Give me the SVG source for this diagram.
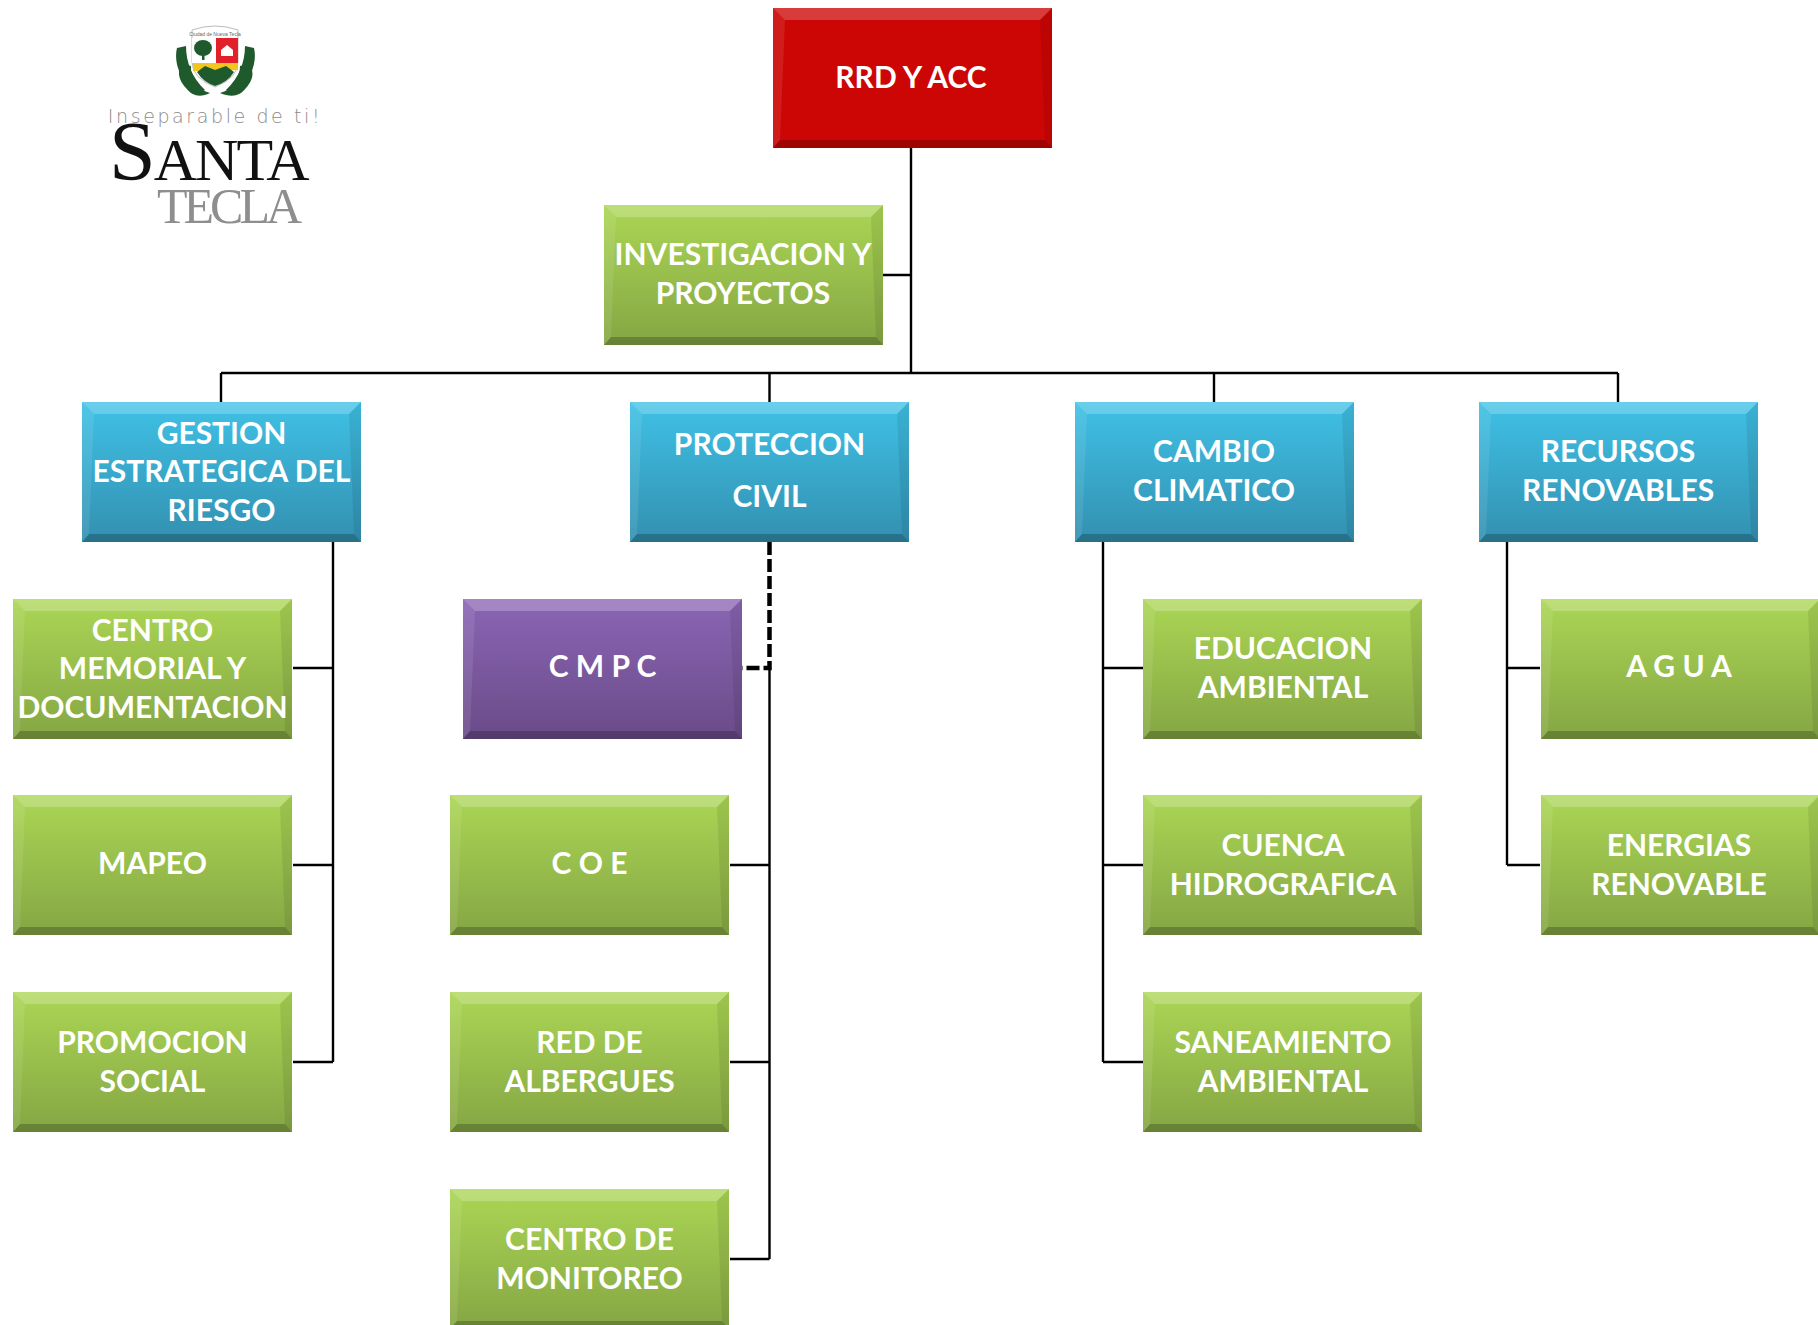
<svg xmlns="http://www.w3.org/2000/svg" width="1818" height="1325" viewBox="0 0 1818 1325">
<style>
text.t{font-family:"Lato","Carlito","Liberation Sans",sans-serif;font-weight:700;font-size:30px;fill:#fff;text-anchor:middle}
.c{fill:none;stroke:#000;stroke-width:2.4}
.d{fill:none;stroke:#000;stroke-width:4.5;stroke-dasharray:13 4}
.hi{fill:#fff;opacity:.22}
.lo{fill:#000;opacity:.22}
.sd{fill:#000;opacity:.08}
.ln{fill:#fff;opacity:.09}
</style>
<defs>
<linearGradient id="gg" x1="0" y1="0" x2="0" y2="1"><stop offset="0" stop-color="#abd654"/><stop offset="1" stop-color="#85a644"/></linearGradient>
<linearGradient id="gb" x1="0" y1="0" x2="0" y2="1"><stop offset="0" stop-color="#3fc1e6"/><stop offset="1" stop-color="#3390b0"/></linearGradient>
<linearGradient id="gp" x1="0" y1="0" x2="0" y2="1"><stop offset="0" stop-color="#8b65b4"/><stop offset="1" stop-color="#6a4b88"/></linearGradient>
<g id="bev">
<polygon class="hi" points="0,0 279,0 267,12 12,12"/>
<polygon class="lo" points="0,140 279,140 272,132 7,132"/>
<polygon class="sd" points="279,0 279,140 272,132 267,12"/>
<polygon class="ln" points="0,0 0,140 7,132 12,12"/>
</g>
</defs>
<rect width="1818" height="1325" fill="#fff"/>
<g id="connectors">
<path class="c" d="M911 148V373M883 275H911M221 373H1618M221 373V402M769.5 373V402M1214 373V402M1618 373V402"/>
<path class="c" d="M333 542V1062M293 668H333M293 865H333M293 1062H333"/>
<path class="c" d="M769.5 668V1259M730 865H769.5M730 1062H769.5M730 1259H769.5"/>
<path class="d" d="M769.5 542V668H742"/>
<path class="c" d="M1103 542V1062M1103 668H1143M1103 865H1143M1103 1062H1143"/>
<path class="c" d="M1507 542V865M1507 668H1540M1507 865H1540"/>
</g>
<g id="logo">
<path d="M191 66C176 62 176 78 186 88C192 96 200 98 210 93C198 90 190 80 191 66Z" fill="#1f5a2c"/>
<path d="M240 66C255 62 256 78 246 88C240 96 232 98 220 93C232 90 240 80 240 66Z" fill="#1f5a2c"/>
<path d="M177 48C174 60 178 80 198 94L205 90C192 78 186 62 186 46Z" fill="#1f5a2c"/>
<path d="M254 48C257 60 253 80 233 94L226 90C239 78 245 62 245 46Z" fill="#1f5a2c"/>
<path d="M192 30Q215 22 238 30V62Q238 78 215 87Q192 78 192 62Z" fill="#fff" stroke="#bbb" stroke-width="1"/>
<rect x="192" y="38" width="23" height="25" fill="#fff"/>
<ellipse cx="203" cy="48" rx="9" ry="8" fill="#1f5a2c"/>
<rect x="202" y="52" width="2.5" height="8" fill="#1f5a2c"/>
<rect x="216" y="38" width="22" height="25" fill="#e2202a"/>
<path d="M221 50L227 45L233 50V56H221Z" fill="#fff"/>
<path d="M193 63H238V70L215 71L193 71Z" fill="#f2c61f"/>
<path d="M197 72L205 66L215 70L226 66L234 72Q228 82 215 86Q203 82 197 72Z" fill="#1f5a2c"/>
<text x="215" y="36" font-family="Liberation Sans,sans-serif" font-size="5" text-anchor="middle" fill="#666">Ciudad de Nueva Tecla</text>
<text x="215" y="123" font-family="DejaVu Sans,sans-serif" font-weight="200" font-size="19" letter-spacing="2.6" text-anchor="middle" fill="#8a8a8a">Inseparable de ti!</text>
<text x="109" y="180" font-family="Liberation Serif,serif" font-size="60" letter-spacing="-2" fill="#111"><tspan font-size="84">S</tspan>ANTA</text>
<text x="157" y="223" font-family="Liberation Serif,serif" font-size="50" letter-spacing="-4" fill="#8e8e8e">TECLA</text>
</g>
<g id="rrd"><rect x="773" y="8" width="279" height="140" fill="#cc0604"/><use href="#bev" x="773" y="8"/><text class="t" x="911" y="88">RRD Y ACC</text></g>
<g id="investigacion"><rect x="604" y="205" width="279" height="140" fill="url(#gg)"/><use href="#bev" x="604" y="205"/><text class="t" x="743" y="265">INVESTIGACION Y</text><text class="t" x="743" y="303.5">PROYECTOS</text></g>
<g id="gestion"><rect x="82" y="402" width="279" height="140" fill="url(#gb)"/><use href="#bev" x="82" y="402"/><text class="t" x="221.500" y="443.500">GESTION</text><text class="t" x="221.500" y="482">ESTRATEGICA DEL</text><text class="t" x="221.500" y="520.500">RIESGO</text></g>
<g id="proteccion"><rect x="630" y="402" width="279" height="140" fill="url(#gb)"/><use href="#bev" x="630" y="402"/><text class="t" x="769.500" y="455">PROTECCION</text><text class="t" x="769.500" y="507">CIVIL</text></g>
<g id="cambio"><rect x="1075" y="402" width="279" height="140" fill="url(#gb)"/><use href="#bev" x="1075" y="402"/><text class="t" x="1214" y="462">CAMBIO</text><text class="t" x="1214" y="500.500">CLIMATICO</text></g>
<g id="recursos"><rect x="1479" y="402" width="279" height="140" fill="url(#gb)"/><use href="#bev" x="1479" y="402"/><text class="t" x="1618" y="462">RECURSOS</text><text class="t" x="1618" y="500.500">RENOVABLES</text></g>
<g id="centro-memorial"><rect x="13" y="599" width="279" height="140" fill="url(#gg)"/><use href="#bev" x="13" y="599"/><text class="t" x="152.500" y="640.500">CENTRO</text><text class="t" x="152.500" y="679">MEMORIAL Y</text><text class="t" x="152.500" y="717.500">DOCUMENTACION</text></g>
<g id="mapeo"><rect x="13" y="795" width="279" height="140" fill="url(#gg)"/><use href="#bev" x="13" y="795"/><text class="t" x="152.500" y="874">MAPEO</text></g>
<g id="promocion"><rect x="13" y="992" width="279" height="140" fill="url(#gg)"/><use href="#bev" x="13" y="992"/><text class="t" x="152.500" y="1053">PROMOCION</text><text class="t" x="152.500" y="1091.500">SOCIAL</text></g>
<g id="cmpc"><rect x="463" y="599" width="279" height="140" fill="url(#gp)"/><use href="#bev" x="463" y="599"/><text class="t" x="602.500" y="677">C M P C</text></g>
<g id="coe"><rect x="450" y="795" width="279" height="140" fill="url(#gg)"/><use href="#bev" x="450" y="795"/><text class="t" x="589.500" y="874">C O E</text></g>
<g id="albergues"><rect x="450" y="992" width="279" height="140" fill="url(#gg)"/><use href="#bev" x="450" y="992"/><text class="t" x="589.500" y="1053">RED DE</text><text class="t" x="589.500" y="1091.500">ALBERGUES</text></g>
<g id="monitoreo"><rect x="450" y="1189" width="279" height="140" fill="url(#gg)"/><use href="#bev" x="450" y="1189"/><text class="t" x="589.500" y="1250">CENTRO DE</text><text class="t" x="589.500" y="1288.500">MONITOREO</text></g>
<g id="educacion"><rect x="1143" y="599" width="279" height="140" fill="url(#gg)"/><use href="#bev" x="1143" y="599"/><text class="t" x="1283" y="659">EDUCACION</text><text class="t" x="1283" y="697.500">AMBIENTAL</text></g>
<g id="cuenca"><rect x="1143" y="795" width="279" height="140" fill="url(#gg)"/><use href="#bev" x="1143" y="795"/><text class="t" x="1283" y="856">CUENCA</text><text class="t" x="1283" y="894.500">HIDROGRAFICA</text></g>
<g id="saneamiento"><rect x="1143" y="992" width="279" height="140" fill="url(#gg)"/><use href="#bev" x="1143" y="992"/><text class="t" x="1283" y="1053">SANEAMIENTO</text><text class="t" x="1283" y="1091.500">AMBIENTAL</text></g>
<g id="agua"><rect x="1541" y="599" width="279" height="140" fill="url(#gg)"/><use href="#bev" x="1541" y="599"/><text class="t" x="1679" y="677">A G U A</text></g>
<g id="energias"><rect x="1541" y="795" width="279" height="140" fill="url(#gg)"/><use href="#bev" x="1541" y="795"/><text class="t" x="1679" y="856">ENERGIAS</text><text class="t" x="1679" y="894.500">RENOVABLE</text></g>
</svg>
